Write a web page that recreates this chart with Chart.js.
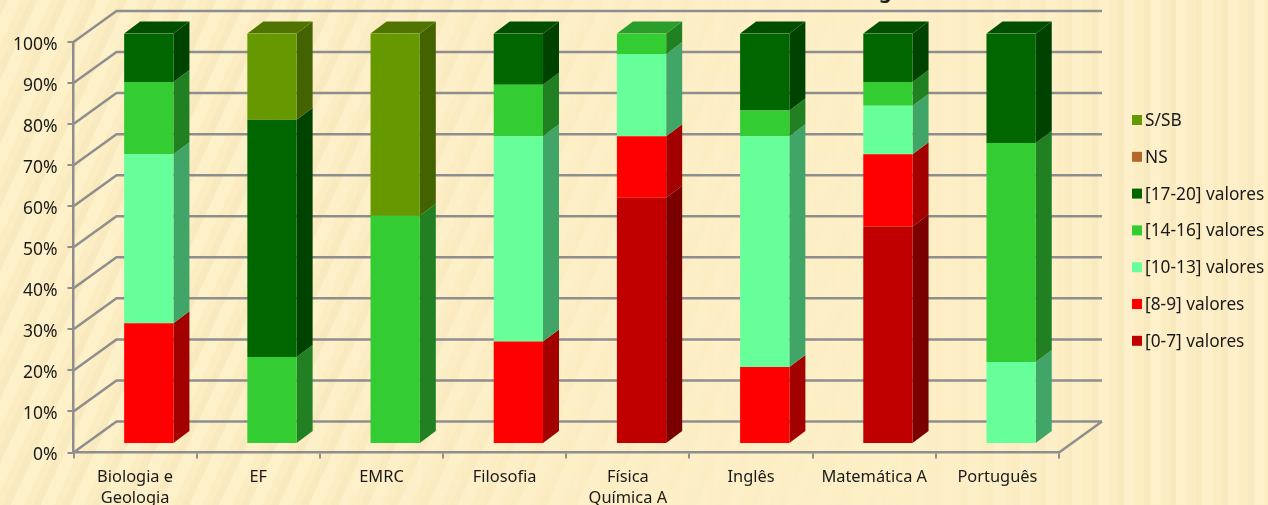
<!DOCTYPE html>
<html>
<head>
<meta charset="utf-8">
<title>Chart</title>
<script src="https://cdn.jsdelivr.net/npm/chart.js@4"></script>
<style>
html, body { margin: 0; padding: 0; overflow: hidden; }
body {
    position: relative;
    width: 1268px; height: 505px;
    background-color: #fdefc6;
}
/* paper texture: slanted streaks on the left, upright ones on the right */
body::before, body::after {
    content: '';
    position: absolute;
    left: 0; top: 0; right: 0; bottom: 0;
}
body::before {
    background-image: repeating-linear-gradient(115deg, rgba(232,208,150,0.16) 0 7px, rgba(255,248,222,0.18) 7px 19px, rgba(238,216,160,0.08) 19px 27px);
    -webkit-mask-image: linear-gradient(90deg, #000 0, #000 25%, rgba(0,0,0,0.35) 50%, transparent 72%);
}
body::after {
    background-image: repeating-linear-gradient(90deg, rgba(232,208,150,0.16) 0 6px, rgba(255,248,222,0.16) 6px 17px, rgba(238,216,160,0.08) 17px 26px);
    -webkit-mask-image: linear-gradient(90deg, transparent 0, transparent 70%, #000 88%);
}
canvas { display: block; position: relative; z-index: 1; }
</style>
</head>
<body>
<canvas id="chart" width="1268" height="505"></canvas>
<script>
// Categories and series
const categories = [['Biologia e', 'Geologia'], 'EF', 'EMRC', 'Filosofia', ['Física', 'Química A'], 'Inglês', 'Matemática A', 'Português'];
const seriesNames = ['[0-7] valores', '[8-9] valores', '[10-13] valores', '[14-16] valores', '[17-20] valores', 'NS', 'S/SB'];
const v0to7 = [0, 0, 0, 0, 60, 0, 53, 0];
const v8to9 = [29.4, 0, 0, 25, 15, 18.75, 17.6, 0];
const v10to13 = [41.2, 0, 0, 50, 20, 56.25, 11.8, 20];
const v14to16 = [17.6, 21.2, 55.6, 12.5, 5, 6.25, 5.8, 53.3];
const v17to20 = [11.8, 57.8, 0, 12.5, 0, 18.75, 11.8, 26.7];
const vNS = [0, 0, 0, 0, 0, 0, 0, 0];
const vSSB = [0, 21, 44.4, 0, 0, 0, 0, 0];
const seriesValues = [v0to7, v8to9, v10to13, v14to16, v17to20, vNS, vSSB];
const frontColors = ['#c00000', '#ff0000', '#66ff99', '#33cc33', '#006600', '#b3672b', '#669900'];
const sideColors = ['#7a0000', '#a30000', '#40a566', '#218021', '#004200', '#7a4519', '#426300'];
const topColors = ['#960000', '#cc0000', '#55d580', '#2a9e2a', '#004f00', '#8f5220', '#4f7500'];

// The title is cut off by the top edge, only this descender shows
const titleFragment = 'g';

const gridColor = '#8e8e8e';
const textColor = '#1a1a1a';
const fontName = '"Noto Sans", sans-serif';

// Fake 3D: offsets of the bar front, bar back and back wall from the axis plane
const barShift = { x: 13.7, y: -8.5 };
const barDepth = { x: 16, y: -12 };
const wallShift = { x: 43, y: -31 };

// Grid on the walls, drawn behind the bars
const wallPlugin = {
    id: 'wall',
    beforeDatasetsDraw(chart) {
        const ctx = chart.ctx;
        const area = chart.chartArea;
        const yScale = chart.scales.y;
        ctx.save();
        ctx.strokeStyle = gridColor;
        ctx.lineWidth = 2.5;
        yScale.ticks.forEach(tick => {
            const y = yScale.getPixelForValue(tick.value);
            ctx.beginPath();
            ctx.moveTo(area.left, y);
            ctx.lineTo(area.left + wallShift.x, y + wallShift.y);
            ctx.lineTo(area.right + wallShift.x, y + wallShift.y);
            ctx.stroke();
        });
        // floor right edge
        ctx.beginPath();
        ctx.moveTo(area.right, area.bottom);
        ctx.lineTo(area.right + wallShift.x, area.bottom + wallShift.y);
        ctx.stroke();
        ctx.restore();
    }
};

// Side and top faces, plus shifting the bar fronts off the axis plane
const barsPlugin = {
    id: 'bars3d',
    beforeDatasetsDraw(chart) {
        const ctx = chart.ctx;
        ctx.save();
        ctx.translate(barShift.x, barShift.y);
        chart.data.datasets.forEach((ds, i) => {
            chart.getDatasetMeta(i).data.forEach((bar, j) => {
                if (!ds.data[j]) return;
                const right = bar.x + bar.width / 2;
                const left = bar.x - bar.width / 2;
                ctx.fillStyle = sideColors[i];
                ctx.beginPath();
                ctx.moveTo(right, bar.y);
                ctx.lineTo(right + barDepth.x, bar.y + barDepth.y);
                ctx.lineTo(right + barDepth.x, bar.base + barDepth.y);
                ctx.lineTo(right, bar.base);
                ctx.closePath();
                ctx.fill();
                if (bar.y < chart.scales.y.getPixelForValue(99.9)) {
                    ctx.fillStyle = topColors[i];
                    ctx.beginPath();
                    ctx.moveTo(left, bar.y);
                    ctx.lineTo(left + barDepth.x, bar.y + barDepth.y);
                    ctx.lineTo(right + barDepth.x, bar.y + barDepth.y);
                    ctx.lineTo(right, bar.y);
                    ctx.closePath();
                    ctx.fill();
                }
            });
        });
    },
    afterDatasetsDraw(chart) {
        chart.ctx.restore();
    }
};

// Legend on the right, top entry first is the last series
const legendPlugin = {
    id: 'sideLegend',
    afterDraw(chart) {
        const ctx = chart.ctx;
        ctx.save();
        ctx.font = '17.3px ' + fontName;
        ctx.textBaseline = 'middle';
        chart.data.datasets.slice().reverse().forEach((ds, i) => {
            const y = 120 + i * 36.8;
            ctx.fillStyle = ds.backgroundColor;
            ctx.fillRect(1132, y - 5, 10, 10);
            ctx.fillStyle = textColor;
            ctx.fillText(ds.label, 1145, y + 1);
        });
        // what is left of the title
        ctx.font = 'bold 20px ' + fontName;
        ctx.textBaseline = 'alphabetic';
        ctx.fillStyle = textColor;
        ctx.fillText(titleFragment, 879, -2);
        ctx.restore();
    }
};

new Chart(document.getElementById('chart'), {
    type: 'bar',
    data: {
        labels: categories,
        datasets: seriesNames.map((name, i) => ({
            label: name,
            data: seriesValues[i],
            backgroundColor: frontColors[i],
            barPercentage: 0.8,
            categoryPercentage: 0.5
        }))
    },
    options: {
        responsive: false,
        animation: false,
        layout: { padding: { top: 42, right: 209, left: 0, bottom: 0 } },
        plugins: {
            legend: { display: false },
            title: { display: false },
            tooltip: { enabled: false }
        },
        scales: {
            x: {
                stacked: true,
                afterFit(scale) { scale.height = 52.5; },
                border: { color: gridColor, width: 2.5 },
                grid: { drawOnChartArea: false, drawTicks: true, tickLength: 6, color: gridColor, lineWidth: 2, offset: true },
                ticks: { color: textColor, font: { family: fontName, size: 16.4, lineHeight: 1.3 }, padding: 8, maxRotation: 0, autoSkip: false }
            },
            y: {
                stacked: true,
                min: 0,
                max: 100,
                afterFit(scale) { scale.width = 73.5; },
                border: { color: gridColor, width: 2.5 },
                grid: { drawOnChartArea: false, drawTicks: true, tickLength: 6, color: gridColor, lineWidth: 2 },
                // blank first line nudges the label down to sit as in the reference
                ticks: { stepSize: 10, color: textColor, font: { family: fontName, size: 17.5, lineHeight: 0.34 }, padding: 10, callback: value => ['', value + '%'] }
            }
        }
    },
    plugins: [wallPlugin, barsPlugin, legendPlugin]
});
</script>
</body>
</html>
